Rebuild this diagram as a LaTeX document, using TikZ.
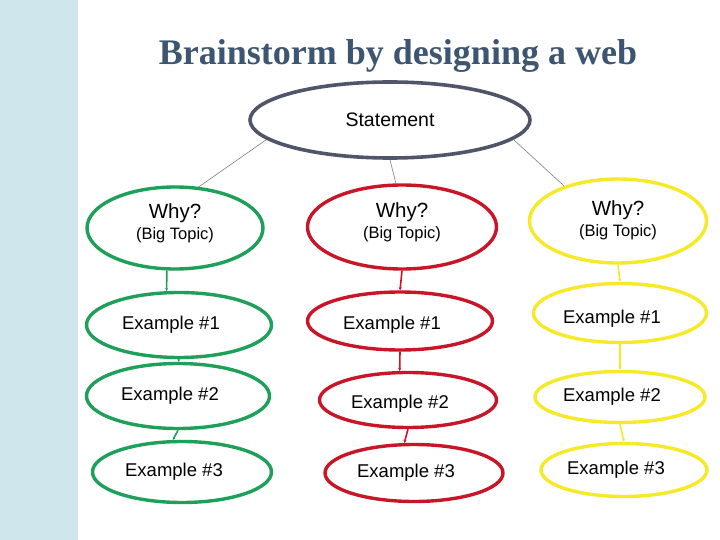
\documentclass[tikz,border=0pt]{standalone}
\usepackage{fontspec}
\setmainfont{Liberation Sans}
\newfontfamily\titlefont{Liberation Serif}
\usetikzlibrary{arrows.meta,shapes.geometric}
\definecolor{webgreen}{RGB}{30,160,90}
\definecolor{webred}{RGB}{200,22,40}
\definecolor{webyellow}{RGB}{246,234,40}
\definecolor{webslate}{RGB}{80,85,105}
\definecolor{webgray}{RGB}{128,128,128}
\definecolor{webtitle}{RGB}{61,85,112}
\definecolor{webstrip}{RGB}{208,230,237}
\tikzset{
  bub/.style={ellipse, line width=3.4pt, fill=white, inner sep=0pt, align=center,
              font=\fontsize{18.5}{22}\selectfont},
  sbub/.style={bub, draw=webslate, line width=3.6pt, minimum width=280pt, minimum height=76pt,
              font=\fontsize{19.5}{22}\selectfont},
  wbub/.style={bub, font=\fontsize{20.5}{21}\selectfont, text depth=12pt},
  exbub/.style={bub, execute at end node={\hspace*{16pt}}},
  lowtext/.style={text height=#1, text depth=0pt},
  gbub/.style={draw=webgreen},
  rbub/.style={draw=webred},
  ybub/.style={draw=webyellow},
  link/.style={draw=webgray, line width=0.6pt},
  gflow/.style={-{Stealth[length=3pt,width=3pt]}, line width=1.6pt, draw=webgreen},
  rflow/.style={-{Stealth[length=3pt,width=3pt]}, line width=1.6pt, draw=webred},
  yflow/.style={-{Stealth[length=3pt,width=3pt]}, line width=1.6pt, draw=webyellow},
}
\newcommand{\bigtopic}{{\fontsize{16.5}{21}\selectfont(Big Topic)}}

\begin{document}
\begin{tikzpicture}[x=1pt, y=-1pt]
    \useasboundingbox (0,0) rectangle (720,540);
    \fill[white] (0,0) rectangle (720,540);
    \fill[webstrip] (0,0) rectangle (78,540);
    \node[anchor=base, text=webtitle, font=\titlefont\bfseries\fontsize{36}{40}\selectfont] (title) at (398,65) {Brainstorm by designing a web};
    % statement
    \node[sbub] (stmt) at (390,120) {Statement};
    % green column
    \node[wbub, gbub, minimum width=176pt, minimum height=82pt] (whyG) at (175,228) {Why?\\\bigtopic};
    \node[exbub, gbub, minimum width=185pt, minimum height=65pt] (exG1) at (179,325) {Example \#1};
    \node[exbub, gbub, minimum width=183pt, minimum height=65pt] (exG2) at (178,396) {Example \#2};
    \node[exbub, gbub, minimum width=179pt, minimum height=61pt] (exG3) at (182,472) {Example \#3};
    % red column
    \node[wbub, rbub, minimum width=189pt, minimum height=84pt] (whyR) at (402,227) {Why?\\\bigtopic};
    \node[exbub, rbub, lowtext=17.6pt, minimum width=185pt, minimum height=58pt] (exR1) at (400,321) {Example \#1};
    \node[exbub, rbub, lowtext=17.6pt, minimum width=177pt, minimum height=55pt] (exR2) at (408,400) {Example \#2};
    \node[exbub, rbub, minimum width=178pt, minimum height=57pt] (exR3) at (414,473) {Example \#3};
    % yellow column
    \node[wbub, ybub, text depth=4pt, minimum width=177pt, minimum height=84pt] (whyY) at (618,221) {Why?\\\bigtopic};
    \node[exbub, ybub, lowtext=21.6pt, minimum width=173pt, minimum height=59pt] (exY1) at (620,313) {Example \#1};
    \node[exbub, ybub, minimum width=170pt, minimum height=51pt] (exY2) at (620,397) {Example \#2};
    \node[exbub, ybub, minimum width=166pt, minimum height=53pt] (exY3) at (624,470) {Example \#3};
    % links from the statement
    \draw[link] (stmt.189) -- (whyG.60);
    \draw[link] (stmt.south) -- (whyR.98);
    \draw[link] (stmt.351) -- (whyY.147);
    % chains
    \draw[gflow] (whyG.-101) -- (exG1.110);
    \draw[gflow] (exG1.south) -- (exG2.north);
    \draw[gflow] (exG2.south) -- (exG3.106);
    \draw[rflow] (whyR.south) -- (exR1.north);
    \draw[rflow] (exR1.south) -- (exR2.106);
    \draw[rflow] (exR2.south) -- (exR3.108);
    \draw[yflow] (whyY.south) -- (exY1.north);
    \draw[yflow] (exY1.south) -- (exY2.north);
    \draw[yflow] (exY2.south) -- (exY3.north);
\end{tikzpicture}
\end{document}
